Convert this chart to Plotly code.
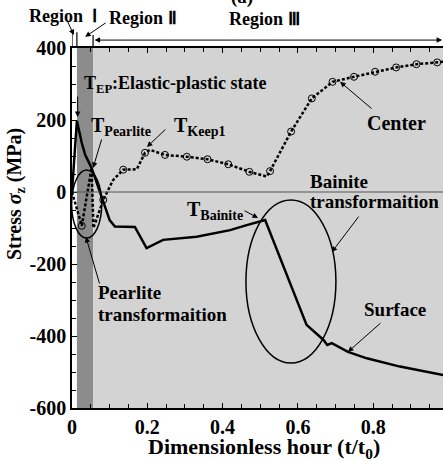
import plotly.graph_objects as go

# ---------------- data ----------------
surface_x = [0, 0.006, 0.013, 0.026, 0.035, 0.052, 0.066, 0.074, 0.100, 0.114, 0.167, 0.198,
             0.242, 0.331, 0.420, 0.464, 0.513, 0.623, 0.668, 0.678, 0.690, 0.733, 0.783,
             0.871, 0.985, 1.0]
surface_y = [0, 100, 198, 136, 103, 67, 25, 0, -78, -96, -97, -156,
             -133, -124, -106, -92, -78, -369, -411, -425, -420, -444, -462,
             -485, -508, -511]

center_x = [0, 0.026, 0.052, 0.057, 0.083, 0.109, 0.136, 0.172, 0.194, 0.207, 0.247,
            0.305, 0.360, 0.415, 0.471, 0.517, 0.526, 0.582, 0.637, 0.692, 0.749,
            0.805, 0.861, 0.915, 0.970, 1.0]
center_y = [0, -94, 67, -100, -22, 33, 62, 63, 109, 117, 103,
            98, 91, 77, 56, 43, 58, 168, 260, 306, 320,
            334, 346, 355, 360, 363]

center_mark_x = [0.026, 0.083, 0.136, 0.194, 0.247, 0.305, 0.360, 0.415, 0.471, 0.526,
                 0.582, 0.637, 0.692, 0.749, 0.805, 0.861, 0.915, 0.970]
center_mark_y = [-94, -22, 62, 109, 103, 98, 91, 77, 56, 58,
                 168, 260, 306, 320, 334, 346, 355, 360]

x_ticks = [0, 0.2, 0.4, 0.6, 0.8, 1.0]
x_tick_labels = ["0", "0.2", "0.4", "0.6", "0.8", "1"]
y_ticks = [-600, -400, -200, 0, 200, 400]
y_tick_labels = ["-600", "-400", "-200", "0", "200", "400"]

region_bounds = [0.0, 0.013, 0.056]   # region I start, region II start, region III start

FONT = "Liberation Serif"

fig = go.Figure()

fig.add_trace(go.Scatter(x=surface_x, y=surface_y, mode="lines",
                         line=dict(color="black", width=2.5), showlegend=False))
fig.add_trace(go.Scatter(x=center_x, y=center_y, mode="lines",
                         line=dict(color="black", width=2.5, dash="3px,2px"), showlegend=False))
fig.add_trace(go.Scatter(x=center_mark_x, y=center_mark_y, mode="markers",
                         marker=dict(symbol="circle-open", size=7, color="black",
                                     line=dict(width=1)), showlegend=False))

# background regions
fig.add_shape(type="rect", xref="x", yref="paper", x0=region_bounds[1], x1=region_bounds[2],
              y0=0, y1=1, fillcolor="#8c8c8c", line_width=0, layer="below")
fig.add_shape(type="rect", xref="x", yref="paper", x0=region_bounds[2], x1=1.0,
              y0=0, y1=1, fillcolor="#d3d3d3", line_width=0, layer="below")
# zero line
fig.add_shape(type="line", xref="x", yref="y", x0=0, x1=1.0, y0=0, y1=0,
              line=dict(color="#555555", width=1))
# ellipses
fig.add_shape(type="circle", xref="x", yref="y", x0=-0.001, x1=0.079, y0=-128, y1=61,
              line=dict(color="black", width=1.5))
fig.add_shape(type="circle", xref="x", yref="y", x0=0.462, x1=0.701, y0=-475, y1=-22,
              line=dict(color="black", width=1.5))
# region boundary ticks above plot
for xb, ytop in zip(region_bounds, [1.044, 1.044, 1.036]):
    fig.add_shape(type="line", xref="x", yref="paper", x0=xb, x1=xb, y0=1.0, y1=ytop,
                  line=dict(color="black", width=1.2))

anns = []
def txt(x, y, text, size=19, xanchor="left", yref="y", xref="x", angle=0, yanchor="middle"):
    anns.append(dict(x=x, y=y, xref=xref, yref=yref, text=text, showarrow=False,
                     xanchor=xanchor, yanchor=yanchor, textangle=angle, font=dict(size=size)))

def arr(x, y, ax, ay, yref="y"):
    anns.append(dict(x=x, y=y, xref="x", yref=yref, ax=ax, ay=ay, axref="pixel", ayref="pixel",
                     text="", showarrow=True, arrowhead=2, arrowsize=1.1, arrowwidth=1,
                     arrowcolor="black"))

# axis titles
txt(0.5175, -0.068, "Dimensionless hour (t/t<sub>0</sub>)", size=22, xanchor="center",
    xref="paper", yref="paper", yanchor="top")
txt(-0.154, 0.594, "Stress <i>σ</i><sub>z</sub> (MPa)", size=20, xanchor="center",
    xref="paper", yref="paper", angle=-90)

# titles above the plot
txt(0.459, 1.142, "(a)", size=19, xanchor="center", xref="paper", yref="paper")
txt(-0.121, 1.089, "Region  Ⅰ", size=18, xanchor="left", xref="paper", yref="paper")
txt(0.192, 1.083, "Region Ⅱ", size=18, xanchor="center", xref="paper", yref="paper")
txt(0.520, 1.081, "Region Ⅲ", size=18, xanchor="center", xref="paper", yref="paper")
arr(0.005, 1.036, -7, -15, yref="paper")
arr(0.035, 1.031, 22, -15, yref="paper")
anns.append(dict(x=0.983, y=1.022, xref="x", yref="paper", ax=region_bounds[2], ay=0,
                 axref="x", ayref="pixel", text="", showarrow=True, arrowhead=2,
                 startarrowhead=2, arrowside="end+start", arrowsize=1.1, startarrowsize=1.1,
                 arrowwidth=1, arrowcolor="black"))

# in-plot labels
txt(0.027, 300, "T<sub>EP</sub>:Elastic-plastic state", size=18)
arr(0.015, 208, 0, -22)
txt(0.046, 182, "T<sub>Pearlite</sub>", size=20)
arr(0.056, 67, 9, -30)
txt(0.266, 182, "T<sub>Keep1</sub>", size=20)
arr(0.199, 125, 20, -19)
txt(0.862, 192, "Center", size=20, xanchor="center")
arr(0.712, 306, 33, 28)
txt(0.627, 28, "Bainite", size=19)
txt(0.627, -25, "transformaition", size=19)
arr(0.690, -167, 28, -37)
txt(0.300, -50, "T<sub>Bainite</sub>", size=20)
arr(0.494, -72, -15, -8)
txt(0.064, -280, "Pearlite", size=19)
txt(0.064, -341, "transformaition", size=19)
arr(0.037, -125, 14, 48)
txt(0.858, -325, "Surface", size=19, xanchor="center")
arr(0.733, -444, 34, -30)

fig.update_layout(
    width=443, height=461,
    margin=dict(l=72, r=0, t=48, b=53),
    paper_bgcolor="white", plot_bgcolor="white",
    font=dict(family=FONT, size=19, color="black", weight="bold"),
    annotations=anns,
    showlegend=False,
)
fig.update_xaxes(range=[0, 0.9854], tickvals=x_ticks, ticktext=x_tick_labels,
                 ticks="inside", ticklen=5, tickwidth=1, tickcolor="black",
                 minor=dict(dtick=0.05, ticks="inside", ticklen=4, tickcolor="black"),
                 showline=True, linecolor="black", linewidth=1.5, mirror="ticks",
                 showgrid=False, zeroline=False, tickfont=dict(size=20))
fig.update_yaxes(range=[-600, 400], tickvals=y_ticks, ticktext=y_tick_labels,
                 ticks="inside", ticklen=5, tickwidth=1, tickcolor="black",
                 minor=dict(dtick=50, ticks="inside", ticklen=4, tickcolor="black"),
                 showline=True, linecolor="black", linewidth=1.5, mirror=False,
                 showgrid=False, zeroline=False, tickfont=dict(size=20))

fig.write_html("out.html")
